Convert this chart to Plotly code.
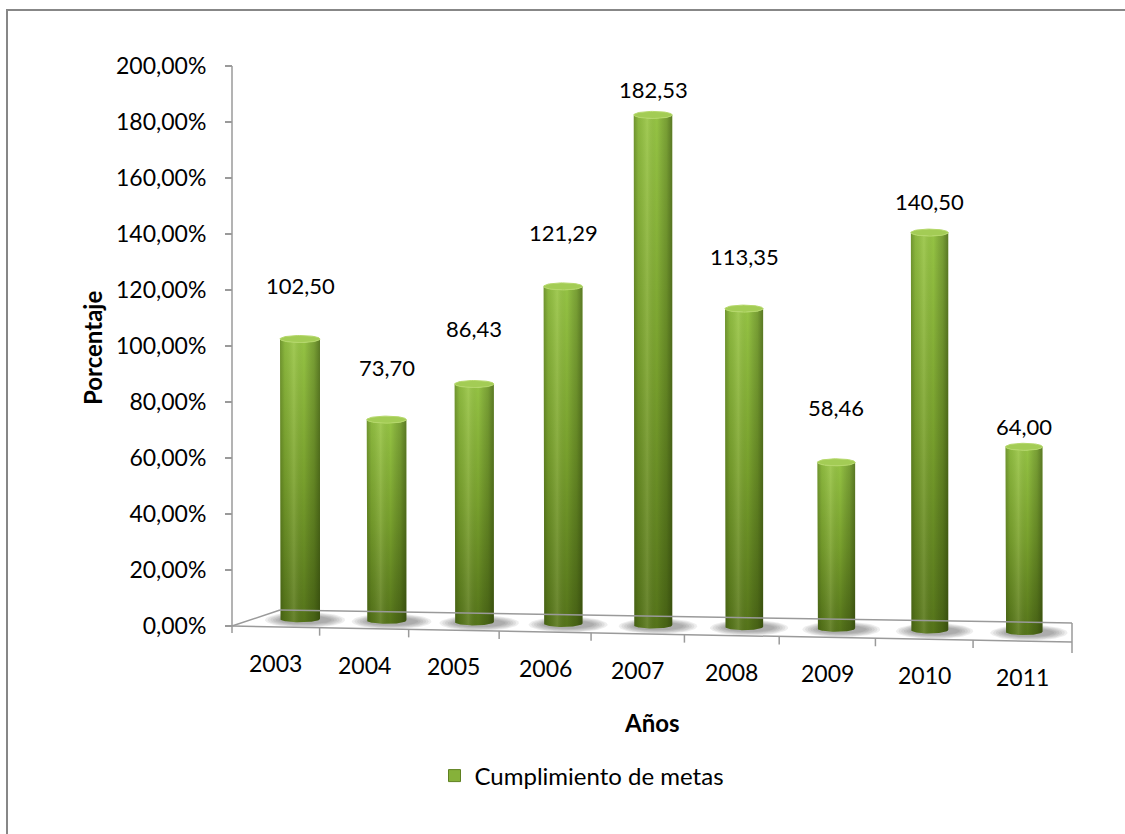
import numpy as np
import plotly.graph_objects as go

# ---- data -------------------------------------------------------------
years = ["2003", "2004", "2005", "2006", "2007", "2008", "2009", "2010", "2011"]
cumplimiento = [102.50, 73.70, 86.43, 121.29, 182.53, 113.35, 58.46, 140.50, 64.00]
y_tick_values = [0, 20, 40, 60, 80, 100, 120, 140, 160, 180, 200]
series_name = "Cumplimiento de metas"
y_title = "Porcentaje"
x_title = "Años"


def es_num(v):
    """number with a decimal comma"""
    return f"{v:.2f}".replace(".", ",")


y_tick_text = [es_num(t) + "%" for t in y_tick_values]

# ---- styling / placement ---------------------------------------------
label_lift_px = [54, 52, 56, 54, 25, 52, 55, 31, 20]   # value label height above cylinder top
FONT = "Lato"
FS_TICK = 23
FS_CAT = 23
FS_VAL = 22
FS_TITLE = 24
FS_LEG = 24
TEXT = "#000000"
GRID_GRAY = "#9a9a9a"

W, H = 1125, 834
PL, PR, PT, PB = 226, 1078, 60, 660      # plot area (px); x units are floor pixels
Y0 = 626                                  # pixel row of the 0 % level
K = 2.8                                   # pixels per percentage point


def ypx(p):
    """pixel row -> y-axis units"""
    return (Y0 - p) / K


def paper_x(p):
    return (p - PL) / (PR - PL)


def paper_y(p):
    return (PB - p) / (PB - PT)


# perspective floor (x in floor pixels, y in axis units)
AXIS_X = 232
FL = (232, 0.0)
FR = (1072, ypx(642))
BL = (280, ypx(610))
BR = (1072, ypx(623))


def front_y(x):
    return FL[1] + (x - FL[0]) / (FR[0] - FL[0]) * (FR[1] - FL[1])


def back_y(x):
    return BL[1] + (x - BL[0]) / (BR[0] - BL[0]) * (BR[1] - BL[1])


def bar_center(i):
    return 300 + 86 * i + 0.5625 * i * i


def slot_edge(k):
    return 232 + 86.9 * k + 0.7167 * k * k


def radius(i):
    return 20 - 0.19 * i


EH = 3.5 / K          # half height of the elliptical ends, axis units


def arc(cx, cy, a, b, t0, t1, n=40):
    t = np.linspace(t0, t1, n)
    return cx + a * np.cos(t), cy + b * np.sin(t)


fig = go.Figure()

for i, (yr, v) in enumerate(zip(years, cumplimiento)):
    cx = bar_center(i)
    r = radius(i)
    base = (front_y(cx) + back_y(cx)) / 2

    # soft floor shadow built from stacked translucent ellipses
    for s in range(6):
        grow = 1 - s / 6
        sx, sy = arc(cx + 5, base - 0.4, r + 4 + 16 * grow, (1.2 + 1.6 * grow), 0, 2 * np.pi, 60)
        fig.add_trace(go.Scatter(
            x=sx, y=sy, mode="lines", fill="toself", line=dict(width=0),
            fillcolor="rgba(70,70,70,0.09)", hoverinfo="skip", showlegend=False))

    # cylinder body: left side, front bottom arc, right side, front top arc
    bx, by = arc(cx, base, r, EH, np.pi, 2 * np.pi)
    tx, ty = arc(cx, v, r, EH, 2 * np.pi, np.pi)
    xs = np.concatenate([[cx - r], bx, [cx + r], tx])
    ys = np.concatenate([[v], by, [v], ty])
    fig.add_trace(go.Scatter(
        x=xs, y=ys, mode="lines", fill="toself", line=dict(width=0),
        fillgradient=dict(type="vertical",
                          colorscale=[[0, "#55741a"], [0.5, "#78a02d"], [1, "#95c344"]]),
        hoverinfo="skip", showlegend=False))
    fig.add_trace(go.Scatter(
        x=xs, y=ys, mode="lines", fill="toself", line=dict(width=0),
        fillgradient=dict(type="horizontal",
                          colorscale=[[0, "rgba(25,40,0,0.30)"], [0.12, "rgba(25,40,0,0.08)"],
                                      [0.35, "rgba(255,255,210,0.12)"], [0.6, "rgba(0,0,0,0)"],
                                      [0.85, "rgba(20,32,0,0.22)"], [1, "rgba(20,32,0,0.45)"]]),
        hoverinfo="skip", showlegend=False))

    # top cap
    cxs, cys = arc(cx, v, r, EH, 0, 2 * np.pi, 60)
    fig.add_trace(go.Scatter(
        x=cxs, y=cys, mode="lines", fill="toself",
        line=dict(width=1, color="#b5d86a"), fillcolor="#a3cc55",
        hoverinfo="skip", showlegend=False))

    # value label
    fig.add_annotation(x=cx, y=v, yshift=label_lift_px[i], text=es_num(v),
                       showarrow=False, font=dict(family=FONT, size=FS_VAL, color=TEXT),
                       xanchor="center", yanchor="middle")

    # category label in front of the floor
    lx = (slot_edge(i) + slot_edge(i + 1)) / 2
    fig.add_annotation(x=lx, y=front_y(lx), yshift=-36, text=yr, showarrow=False,
                       font=dict(family=FONT, size=FS_CAT, color=TEXT),
                       xanchor="center", yanchor="middle")

# legend entry
fig.add_trace(go.Scatter(
    x=[None], y=[None], mode="markers", name=series_name,
    marker=dict(symbol="square", size=12, color="#86b13a", line=dict(color="#5f8020", width=1))))

# floor outline, value axis line and category ticks
line_style = dict(color=GRID_GRAY, width=1.5)
shapes = [
    dict(type="line", xref="x", yref="y", x0=AXIS_X, y0=ypx(633), x1=AXIS_X, y1=200, line=line_style),
    dict(type="line", xref="x", yref="y", x0=FL[0], y0=FL[1], x1=FR[0], y1=FR[1], line=line_style),
    dict(type="line", xref="x", yref="y", x0=FL[0], y0=FL[1], x1=BL[0], y1=BL[1], line=line_style),
    dict(type="line", xref="x", yref="y", x0=BL[0], y0=BL[1], x1=BR[0], y1=BR[1], line=line_style),
    dict(type="line", xref="x", yref="y", x0=BR[0], y0=BR[1], x1=FR[0], y1=FR[1] - 11 / K,
         line=line_style),
]
for k in range(1, len(years)):
    ex = slot_edge(k)
    shapes.append(dict(type="line", xref="x", yref="y", x0=ex, y0=front_y(ex),
                       x1=ex, y1=front_y(ex) - 8 / K, line=line_style))
# chart frame
shapes.append(dict(type="path", xref="paper", yref="paper",
                   path=f"M {paper_x(7)},{paper_y(845)} L {paper_x(7)},{paper_y(10)} "
                        f"L {paper_x(1135)},{paper_y(10)}",
                   line=dict(color="#878787", width=2)))

fig.add_annotation(xref="paper", yref="paper", x=paper_x(92), y=paper_y(348), text=f"<b>{y_title}</b>",
                   textangle=-90, showarrow=False, font=dict(family=FONT, size=FS_TITLE, color=TEXT),
                   xanchor="center", yanchor="middle")
fig.add_annotation(xref="paper", yref="paper", x=paper_x(652), y=paper_y(722), text=f"<b>{x_title}</b>",
                   showarrow=False, font=dict(family=FONT, size=FS_TITLE, color=TEXT),
                   xanchor="center", yanchor="middle")

fig.update_layout(
    width=W, height=H,
    margin=dict(l=PL, r=W - PR, t=PT, b=H - PB),
    paper_bgcolor="white", plot_bgcolor="white",
    shapes=shapes,
    showlegend=True,
    legend=dict(orientation="h", x=paper_x(582), xanchor="center", y=paper_y(776), yanchor="middle",
                font=dict(family=FONT, size=FS_LEG, color=TEXT), itemwidth=30),
    xaxis=dict(range=[PL, PR], visible=False, fixedrange=True),
    yaxis=dict(range=[ypx(PB), ypx(PT)], anchor="free", position=paper_x(AXIS_X),
               tickvals=y_tick_values, ticktext=y_tick_text,
               ticks="outside", ticklen=7, tickwidth=1.5, tickcolor=GRID_GRAY,
               ticklabelstandoff=14,
               showline=False, showgrid=False, zeroline=False, fixedrange=True,
               tickfont=dict(family=FONT, size=FS_TICK, color=TEXT)),
)

fig.write_html("out.html")
